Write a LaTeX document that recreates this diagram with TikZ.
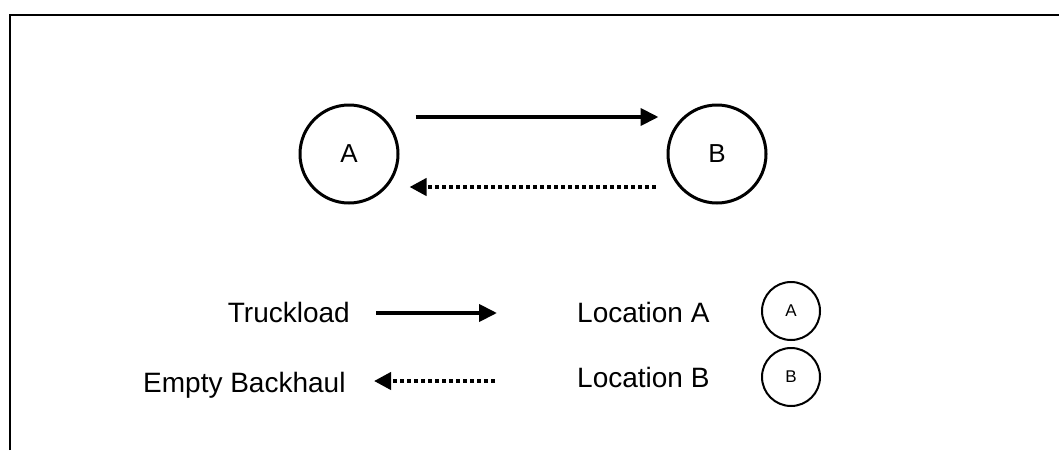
\documentclass[tikz,border=0pt]{standalone}
\usepackage{fontspec}
\setmainfont{Liberation Sans}
\usetikzlibrary{arrows.meta}
\begin{document}
\begin{tikzpicture}[x=1pt,y=-1pt,
  loc/.style={circle,draw,line width=3pt,minimum size=98pt,inner sep=0pt,font=\fontsize{26}{26}\selectfont},
  smallloc/.style={circle,draw,line width=2pt,minimum size=58pt,inner sep=0pt,font=\fontsize{17}{17}\selectfont},
  lbl/.style={inner sep=0pt,anchor=base,font=\fontsize{28}{28}\selectfont},
  haul/.style={line width=4pt,-{Triangle[length=18pt,width=17pt]}},
  back/.style={line width=4pt,dash pattern=on 4pt off 3pt,-{Triangle[length=17pt,width=17pt]}}]
\useasboundingbox (0,0) rectangle (1059,450);
% open frame: top and left edges only
\draw[line width=2pt] (10,450) -- (10,15) -- (1059,15);

% the two locations
\node[loc] (A) at (349,154) {A};
\node[loc] (B) at (717,154) {B};
\draw[haul] ([shift={(16,-37)}]A.east) -- ([shift={(-8,-37)}]B.west);
\draw[back] ([shift={(-11,33)}]B.west) -- ([shift={(10,33)}]A.east);

% legend
\node[lbl,anchor=base east] (tl) at (350,322) {Truckload};
\node[lbl,anchor=base west] (eb) at (143,392) {Empty Backhaul};
\coordinate (tl1) at (376,313);
\coordinate (tl2) at (497,313);
\coordinate (eb1) at (495,381);
\coordinate (eb2) at (374,381);
\draw[haul] (tl1) -- (tl2);
\draw[back] (eb1) -- (eb2);

\node[lbl,anchor=base west] (la) at (577,322) {Location A};
\node[lbl,anchor=base west] (lb) at (577,387) {Location B};
\node[smallloc] (sa) at (791,311) {A};
\node[smallloc] (sb) at (791,377) {B};
\end{tikzpicture}
\end{document}
